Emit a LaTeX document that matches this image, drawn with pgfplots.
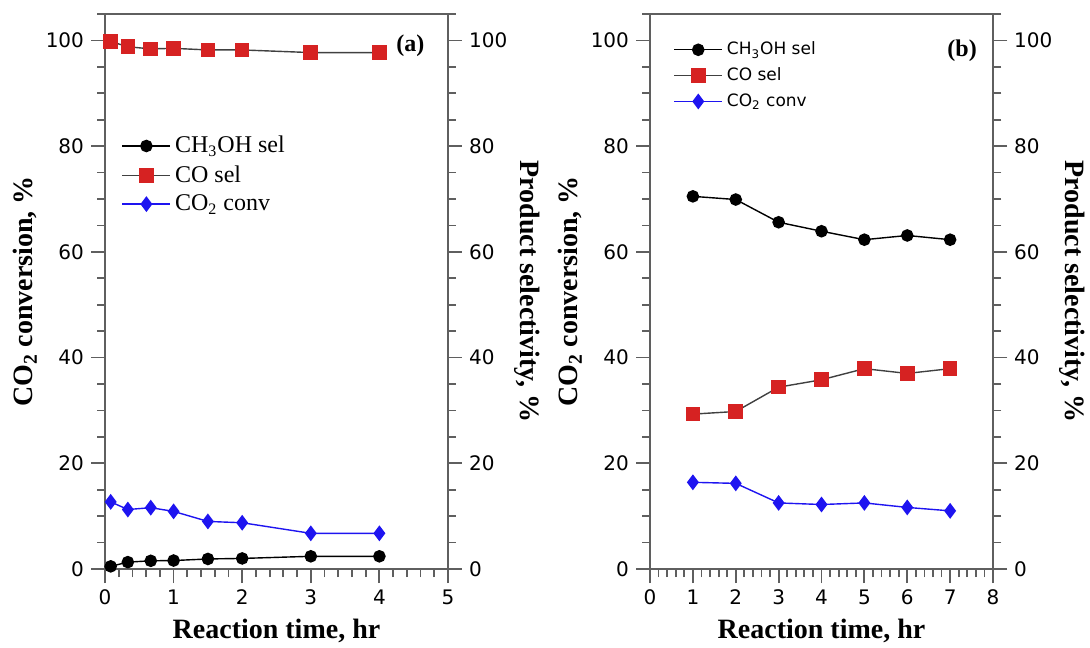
\documentclass[border=0pt]{standalone}
\usepackage{fontspec}
\setmainfont{Liberation Serif}
\newfontfamily\tickfont{DejaVu Sans}
\usepackage{pgfplots}
\pgfplotsset{compat=1.18}
\definecolor{myred}{RGB}{214,34,34}
\definecolor{myblue}{RGB}{30,20,240}
\definecolor{axgray}{RGB}{95,95,95}

\pgfplotsset{
  base/.style={
    scale only axis, width=171.5pt, height=277.5pt,
    ymin=0, ymax=105, ytick={0,20,...,100}, minor ytick={5,10,...,105},
    tick align=outside, major tick length=7pt, minor tick length=4pt,
    every tick/.style={axgray, line width=0.9pt},
    every minor tick/.style={axgray, line width=0.9pt},
    axis line style={axgray, line width=1pt},
    ticklabel style={font=\tickfont\fontsize{10}{12}\selectfont},
    /pgf/number format/assume math mode=true,
    label style={font=\bfseries\fontsize{14}{16}\selectfont},
    clip=false,
  },
  leftlab/.style={ylabel style={at={(axis description cs:-0.233,0.5)}, anchor=center}},
  rightlab/.style={ylabel style={at={(axis description cs:1.232,0.5)}, anchor=center, rotate=180}},
  blackser/.style={black, line width=0.7pt, mark=*, mark size=2.8pt, mark options={fill=black, draw=black}},
  redser/.style={black!75, line width=0.7pt, mark=square*, mark size=3.3pt, mark options={fill=myred, draw=myred}},
  blueser/.style={myblue, line width=0.7pt, mark=diamond*, mark size=3.4pt, mark options={fill=myblue, draw=myblue}},
  legend image code/.code={\draw[mark repeat=2, mark phase=2] plot coordinates {(0pt,0pt) (12pt,0pt) (24pt,0pt)};},
}

\begin{document}
\begin{tikzpicture}
\useasboundingbox (0,0) rectangle (545pt,323.5pt);

% ---------- panel (a) ----------
\begin{axis}[base, at={(52.5pt,39pt)}, anchor=south west,
  xmin=0, xmax=5, xtick={0,...,5}, minor x tick num=4,
  xtick pos=left, ytick pos=both, yticklabel pos=left,
  xlabel={Reaction time, hr},
  ylabel={CO\textsubscript{2} conversion, \%}, leftlab,
  legend style={draw=none, fill=none, at={(0.03,0.795)}, anchor=north west,
    font=\fontsize{12}{14.4}\selectfont, row sep=0.8pt},
  legend cell align=left,
]
\addplot[blackser] coordinates {(0.083,0.5) (0.333,1.3) (0.667,1.55) (1,1.6) (1.5,1.9) (2,2.0) (3,2.4) (4,2.4)};
\addlegendentry{CH\textsubscript{3}OH sel}
\addplot[redser] coordinates {(0.083,99.8) (0.333,98.8) (0.667,98.4) (1,98.5) (1.5,98.2) (2,98.2) (3,97.7) (4,97.7)};
\addlegendentry{CO sel}
\addplot[blueser] coordinates {(0.083,12.7) (0.333,11.25) (0.667,11.6) (1,10.9) (1.5,9.0) (2,8.75) (3,6.75) (4,6.75)};
\addlegendentry{CO\textsubscript{2} conv}
\node[font=\bfseries\fontsize{12}{14}\selectfont] at (axis cs:4.45,99) {(a)};
\end{axis}
\begin{axis}[base, at={(52.5pt,39pt)}, anchor=south west,
  xmin=0, xmax=5, axis x line=none, axis y line*=right,
  ylabel={Product selectivity, \%}, rightlab,
]
\addplot[draw=none] coordinates {(0,0)};
\end{axis}

% ---------- panel (b) ----------
\begin{axis}[base, at={(325pt,39pt)}, anchor=south west,
  xmin=0, xmax=8, xtick={0,...,8}, minor x tick num=4,
  xtick pos=left, ytick pos=both, yticklabel pos=left,
  xlabel={Reaction time, hr},
  ylabel={CO\textsubscript{2} conversion, \%}, leftlab,
  legend style={draw=none, fill=none, at={(0.05,0.965)}, anchor=north west,
    font=\tickfont\fontsize{8.5}{10}\selectfont, row sep=1pt},
  legend cell align=left,
]
\addplot[blackser] coordinates {(1,70.5) (2,69.9) (3,65.6) (4,63.9) (5,62.3) (6,63.1) (7,62.3)};
\addlegendentry{CH\textsubscript{3}OH sel}
\addplot[redser] coordinates {(1,29.3) (2,29.8) (3,34.4) (4,35.8) (5,37.9) (6,37.0) (7,37.9)};
\addlegendentry{CO sel}
\addplot[blueser] coordinates {(1,16.4) (2,16.2) (3,12.5) (4,12.2) (5,12.5) (6,11.65) (7,11.0)};
\addlegendentry{CO\textsubscript{2} conv}
\node[font=\bfseries\fontsize{12}{14}\selectfont] at (axis cs:7.28,98) {(b)};
\end{axis}
\begin{axis}[base, at={(325pt,39pt)}, anchor=south west,
  xmin=0, xmax=8, axis x line=none, axis y line*=right,
  ylabel={Product selectivity, \%}, rightlab,
]
\addplot[draw=none] coordinates {(0,0)};
\end{axis}
\end{tikzpicture}
\end{document}
